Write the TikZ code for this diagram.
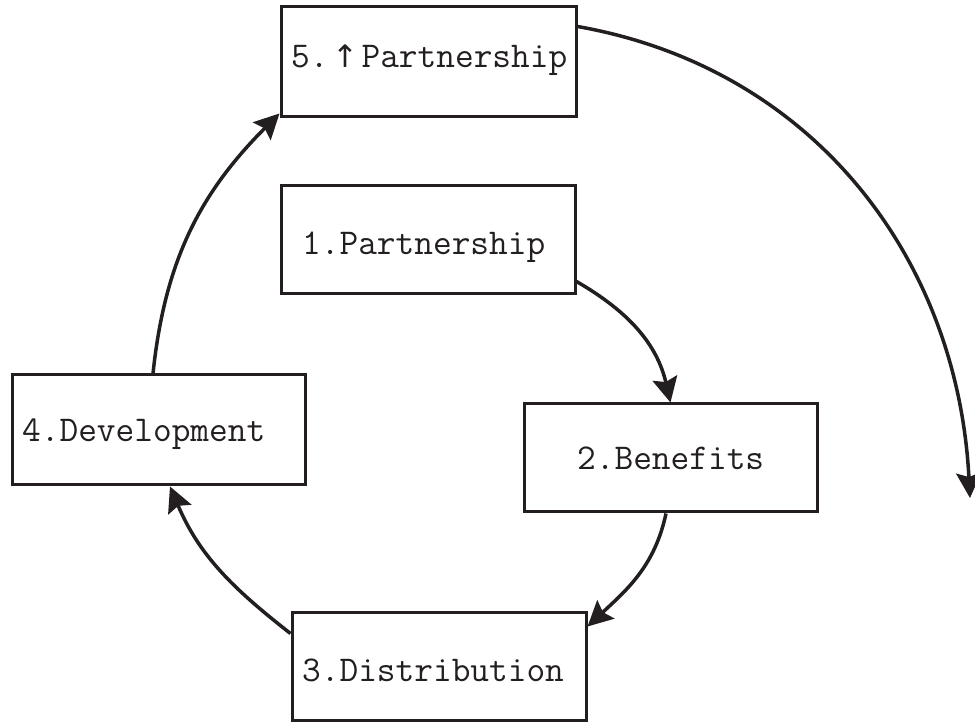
\documentclass[tikz,border=0pt]{standalone}
\usepackage{fontspec}
\newfontfamily\symfont{DejaVu Sans}
\usetikzlibrary{arrows.meta}
\definecolor{ink}{RGB}{35,31,32}
\tikzset{
  box/.style={draw=ink, line width=3pt, fill=white, rectangle, inner sep=0pt},
  lbl/.style={anchor=base west, inner sep=0pt, text=ink, font=\ttfamily\fontsize{36.3}{40}\selectfont},
  link/.style={draw=ink, line width=3.5pt, -{Stealth[length=25pt,width=25pt,inset=4pt]}}
}
\begin{document}
\begin{tikzpicture}[x=1pt,y=1pt]
\useasboundingbox (0,0) rectangle (975,721);
% boxes
\node[box, minimum width=295pt, minimum height=110pt] (b5) at (428.5,659) {};
\node[box, minimum width=294pt, minimum height=108pt] (b1) at (428,481) {};
\node[box, minimum width=293pt, minimum height=108pt] (b2) at (670.5,263) {};
\node[box, minimum width=293pt, minimum height=110pt] (b4) at (158.5,291) {};
\node[box, minimum width=294pt, minimum height=108pt] (b3) at (439,55) {};
% labels
\node[lbl] (t5) at (291,653) {5.\makebox[33pt][c]{\symfont\fontsize{31}{36}\selectfont ↑}Partnership};
\node[lbl] (t1) at (302,466) {1.Partnership};
\node[lbl] (t2) at (577,251) {2.Benefits};
\node[lbl] (t4) at (22,279) {4.Development};
\node[lbl] (t3) at (302,40) {3.Distribution};
% free end
\coordinate (e5) at (970,223);
% connectors
\draw[link] ([yshift=14pt]b1.south east) to[out=-30,in=103] (b2.north);
\draw[link] ([xshift=-4.5pt]b2.south) to[out=258,in=43] ([yshift=-16pt]b3.north east);
\draw[link] ([yshift=-23pt]b3.north west) to[out=142,in=-67] ([xshift=11.5pt]b4.south);
\draw[link] ([xshift=-5.5pt]b4.north) to[out=84,in=225] ([yshift=5pt]b5.south west);
\draw[link] ([yshift=-21pt]b5.north east) to[out=-10,in=93] (e5);
\end{tikzpicture}
\end{document}
